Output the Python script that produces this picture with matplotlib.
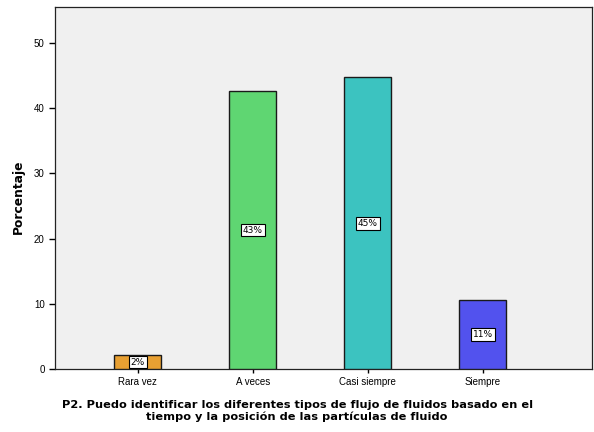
import matplotlib
matplotlib.use('Agg')
import matplotlib.pyplot as plt
import numpy as np

categorias = ['Rara vez', 'A veces', 'Casi siempre', 'Siempre']
porcentajes = [2.1, 42.6, 44.7, 10.6]
etiquetas = ['2%', '43%', '45%', '11%']
colores = ['#e8a032', '#5fd672', '#3cc3c0', '#5252ee']

fig = plt.figure(figsize=(5.94, 4.32), dpi=100)
fig.set_facecolor('white')
ax = fig.add_axes([55/594, 1 - 369/432, (592-55)/594, (369-7)/432])
ax.set_facecolor('#f0f0f0')

x = np.arange(len(categorias))
ax.bar(x, porcentajes, width=0.41, color=colores, edgecolor='#1a1a1a', linewidth=1.0, zorder=3)

# etiquetas de porcentaje en medio de cada barra
for xi, v, t in zip(x, porcentajes, etiquetas):
    ax.text(xi, v / 2, t, ha='center', va='center', fontsize=6.5, zorder=4,
            bbox=dict(boxstyle='square,pad=0.2', facecolor='white', edgecolor='black', linewidth=0.8))

ax.set_xlim(-0.72, 3.95)
ax.set_ylim(0, 55.5)
ax.set_yticks([0, 10, 20, 30, 40, 50])
ax.set_xticks(x)
ax.set_xticklabels(categorias, fontsize=7, family='Liberation Sans')
ax.tick_params(axis='y', labelsize=7, length=4, width=1)
ax.tick_params(axis='x', length=3, width=1, pad=3)
for lab in ax.get_yticklabels():
    lab.set_family('Liberation Sans')

for s in ax.spines.values():
    s.set_color('#222222')
    s.set_linewidth(0.9)

ax.set_ylabel('Porcentaje', fontsize=8.8, fontweight='bold', family='DejaVu Sans')
ax.yaxis.set_label_coords(-0.056, 0.475)
ax.set_xlabel('P2. Puedo identificar los diferentes tipos de flujo de fluidos basado en el\n'
              'tiempo y la posición de las partículas de fluido',
              fontsize=8.2, fontweight='bold', family='DejaVu Sans', linespacing=1.15)
ax.xaxis.set_label_coords(0.451, -0.086)

fig.savefig('out.png', dpi=100)
